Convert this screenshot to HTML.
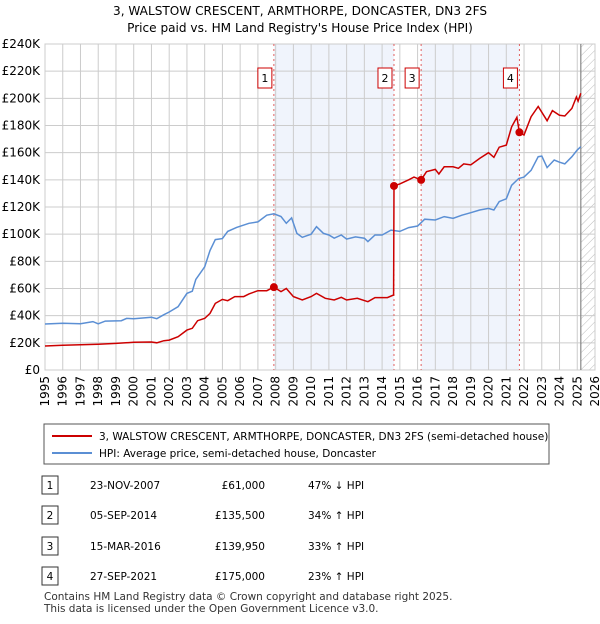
<!DOCTYPE html>
<html><head><meta charset="utf-8"><style>
body{margin:0;background:#fff;font-family:"DejaVu Sans","Liberation Sans",sans-serif;}
svg text{font-family:"DejaVu Sans","Liberation Sans",sans-serif;}
</style></head><body>
<svg id="c" width="600" height="620" xmlns="http://www.w3.org/2000/svg">
<defs><pattern id="hatch" width="6" height="6" patternUnits="userSpaceOnUse" patternTransform="rotate(45)"><line x1="0" y1="0" x2="0" y2="6" stroke="#bbb" stroke-width="1"/></pattern></defs>
<text x="300" y="15" text-anchor="middle" font-size="12.1">3, WALSTOW CRESCENT, ARMTHORPE, DONCASTER, DN3 2FS</text>
<text x="300" y="32" text-anchor="middle" font-size="12.1">Price paid vs. HM Land Registry's House Price Index (HPI)</text>
<g id="plot"></g>
<rect x="44" y="424" width="505" height="40" fill="#fff" stroke="#555"/>
<line x1="52" y1="436" x2="92" y2="436" stroke="#cc0000" stroke-width="2"/>
<text x="99" y="440" font-size="10.5">3, WALSTOW CRESCENT, ARMTHORPE, DONCASTER, DN3 2FS (semi-detached house)</text>
<line x1="52" y1="453" x2="92" y2="453" stroke="#5b8fd4" stroke-width="2"/>
<text x="99" y="457" font-size="10.5">HPI: Average price, semi-detached house, Doncaster</text>
<g id="tbl" font-size="10.5"></g>
<text x="44" y="600" font-size="10.5" fill="#333">Contains HM Land Registry data © Crown copyright and database right 2025.</text>
<text x="44" y="612" font-size="10.5" fill="#333">This data is licensed under the Open Government Licence v3.0.</text>
</svg>
<script>
const hpiYears=[1995,1996,1997,1997.7,1998,1998.4,1999.3,1999.6,2000,2001,2001.3,2001.7,2002,2002.5,2003,2003.3,2003.5,2004,2004.3,2004.6,2005,2005.3,2005.8,2006.5,2007,2007.5,2007.9,2008.3,2008.6,2008.9,2009.2,2009.5,2009.7,2010,2010.3,2010.7,2011,2011.3,2011.7,2012,2012.5,2013,2013.2,2013.6,2014,2014.5,2015,2015.5,2016,2016.4,2017,2017.5,2018,2018.5,2019,2019.5,2020,2020.3,2020.6,2021,2021.3,2021.7,2022,2022.4,2022.8,2023,2023.3,2023.7,2024,2024.3,2024.7,2025,2025.2];
const hpiValues=[33.9,34.4,34,35.6,34,36,36.3,38,37.8,38.8,37.8,40.7,42.7,46.6,56.4,58,66.7,76,88,96,96.7,102,105,108,109,114,115,113,108,112,100.6,97.7,98.6,100,105.5,100.6,99.4,97,99.4,96.4,98,97,94.5,99.4,99.4,103,102,104.8,106,111,110.4,112.9,111.7,114,115.8,117.8,119,117.8,124,126,136,141,142,147,157,157.5,149,154.6,153,151.7,157,162,164.4];
const priceYears=[1995,1996,1997,1998,1999,2000,2001,2001.3,2001.7,2002,2002.5,2003,2003.3,2003.6,2004,2004.3,2004.6,2005,2005.3,2005.7,2006.2,2006.5,2007,2007.5,2007.9,2008.3,2008.6,2009,2009.5,2010,2010.3,2010.8,2011.3,2011.7,2012,2012.6,2013.2,2013.6,2014.3,2014.65,2014.67,2015,2015.5,2015.8,2016.2,2016.5,2017,2017.2,2017.5,2018,2018.3,2018.6,2019,2019.5,2020,2020.3,2020.6,2021,2021.3,2021.6,2021.74,2022,2022.4,2022.8,2023.3,2023.6,2024,2024.3,2024.7,2024.95,2025.05,2025.2];
const priceValues=[17.7,18.2,18.6,19,19.6,20.4,20.6,20,21.6,22,24.5,29.4,30.7,36.3,38,41.7,49,52,51,54,54,56,58.4,58.4,61,57.7,60,54,51.5,54,56.4,52.8,51.5,53.5,51.5,52.8,50.3,53.3,53.3,55.2,135.5,137,140,142,139.95,146,147.7,144.3,149.6,149.6,148.5,151.7,151,155.8,160,156.6,164,165.6,179,186,175,173,186.5,194,183.5,191,187.5,187,192.6,201,198,203.7];
const saleYears=[2007.9,2014.67,2016.2,2021.74];
const saleValues=[61,135.5,139.95,175];
const saleLabels=["1","2","3","4"];
const saleDates=["23-NOV-2007","05-SEP-2014","15-MAR-2016","27-SEP-2021"];
const salePrices=["£61,000","£135,500","£139,950","£175,000"];
const saleHpi=["47% ↓ HPI","34% ↑ HPI","33% ↑ HPI","23% ↑ HPI"];
const yTicks=[0,20,40,60,80,100,120,140,160,180,200,220,240];
const xTicks=[1995,1996,1997,1998,1999,2000,2001,2002,2003,2004,2005,2006,2007,2008,2009,2010,2011,2012,2013,2014,2015,2016,2017,2018,2019,2020,2021,2022,2023,2024,2025,2026];
const dataEnd=2025.2;
const L=45,R=595,T=44,B=370;
const X=y=>L+(y-1995)*(R-L)/31, Y=v=>B-v*(B-T)/240;
const NS="http://www.w3.org/2000/svg", g=document.getElementById('plot');
function mk(t,a,p){const e=document.createElementNS(NS,t);for(const k in a)e.setAttribute(k,a[k]);(p||g).appendChild(e);return e;}
mk('rect',{x:L,y:T,width:R-L,height:B-T,fill:'#fff'});
for(let i=0;i<saleYears.length;i+=2){const x2=i+1<saleYears.length?saleYears[i+1]:dataEnd;
 const r=mk('rect',{x:X(saleYears[i]),y:T,width:X(x2)-X(saleYears[i]),height:B-T,fill:'#f0f4fc'});
 
 }
const h=mk('rect',{x:X(dataEnd),y:T,width:R-X(dataEnd),height:B-T,fill:'url(#hatch)'});


yTicks.forEach(v=>{mk('line',{x1:L,x2:R,y1:Y(v),y2:Y(v),stroke:'#ccc'});
 const t=mk('text',{x:L-5,y:Y(v)+4,'text-anchor':'end','font-size':12});t.textContent='£'+v+(v?'K':'');
 
 });
xTicks.forEach(y=>{mk('line',{x1:X(y),x2:X(y),y1:T,y2:B,stroke:'#ccc'});
 const t=mk('text',{x:0,y:0,'text-anchor':'end','font-size':12,transform:`translate(${X(y)+4},${B+6}) rotate(-90)`});t.textContent=y;
 
 });
mk('rect',{x:L,y:T,width:R-L,height:B-T,fill:'none',stroke:'#ccc'});
mk('line',{x1:X(dataEnd),x2:X(dataEnd),y1:T,y2:B,stroke:'#888','stroke-width':1.2});
saleYears.forEach((y,i)=>{mk('line',{x1:X(y),x2:X(y),y1:T,y2:B,stroke:'#e06060','stroke-dasharray':'2,3'});
 const b=mk('rect',{x:X(y)-16,y:68,width:14,height:20,fill:'#fff',stroke:'#cc0000'});
 
 
 const t=mk('text',{x:X(y)-9,y:82,'text-anchor':'middle','font-size':11});t.textContent=saleLabels[i];});
const pl=(xs,vs)=>xs.map((x,i)=>X(x).toFixed(1)+','+Y(vs[i]).toFixed(1)).join(' ');
const hp=mk('polyline',{points:pl(hpiYears,hpiValues),fill:'none',stroke:'#5b8fd4','stroke-width':1.5});


const pp=mk('polyline',{points:pl(priceYears,priceValues),fill:'none',stroke:'#cc0000','stroke-width':1.5});


saleYears.forEach((y,i)=>{const c=mk('circle',{cx:X(y),cy:Y(saleValues[i]),r:4,fill:'#cc0000'});
 
 });
const tb=document.getElementById('tbl');const rows=[488,518,549,579];
saleLabels.forEach((l,i)=>{const y=rows[i];
 mk('rect',{x:42,y:y-12,width:16,height:18,fill:'#fff',stroke:'#333'},tb);
 let t=mk('text',{x:50,y:y+1,'text-anchor':'middle'},tb);t.textContent=l;
 t=mk('text',{x:90,y:y+1},tb);t.textContent=saleDates[i];
 
 
 t=mk('text',{x:265,y:y+1,'text-anchor':'end'},tb);t.textContent=salePrices[i];
 
 
 t=mk('text',{x:308,y:y+1},tb);t.textContent=saleHpi[i];
 
 });
</script>
</body></html>
